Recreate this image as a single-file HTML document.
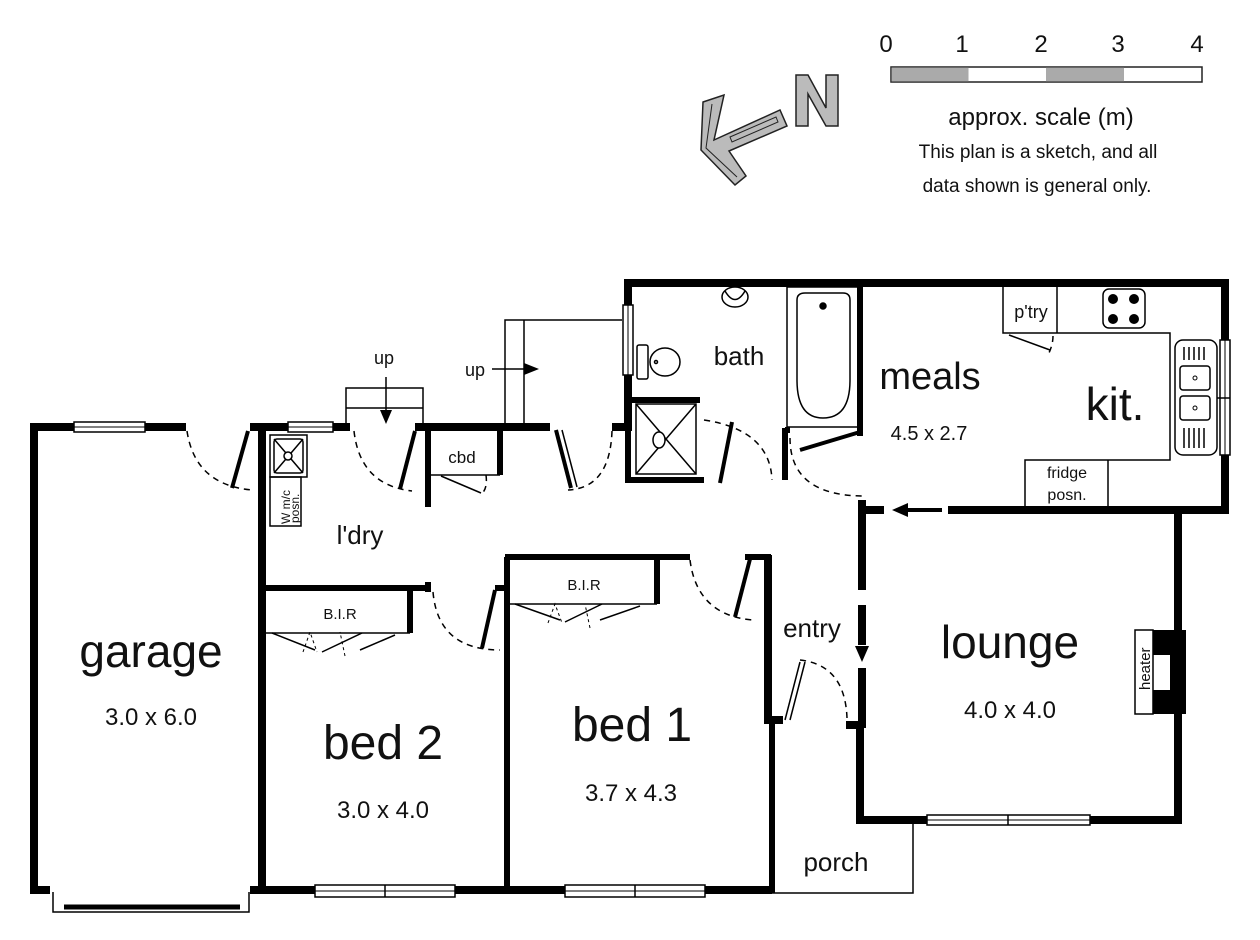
<!DOCTYPE html>
<html><head><meta charset="utf-8"><style>
html,body{margin:0;padding:0;background:#fff;}
svg{display:block;}
text{font-family:"Liberation Sans","DejaVu Sans",sans-serif;fill:#111;}
</style></head><body>
<svg width="1260" height="940" viewBox="0 0 1260 940" xmlns="http://www.w3.org/2000/svg">
<!-- scale -->
<g font-size="24">
<text x="886" y="52" text-anchor="middle">0</text>
<text x="962" y="52" text-anchor="middle">1</text>
<text x="1041" y="52" text-anchor="middle">2</text>
<text x="1118" y="52" text-anchor="middle">3</text>
<text x="1197" y="52" text-anchor="middle">4</text>
</g>
<rect x="891" y="67" width="311" height="15" fill="#fff" stroke="#222" stroke-width="1.5"/>
<rect x="891.5" y="67.5" width="77" height="14" fill="#aaa"/>
<rect x="1046" y="67.5" width="78" height="14" fill="#aaa"/>
<text x="1041" y="125" font-size="24" text-anchor="middle">approx. scale (m)</text>
<text x="1038" y="158" font-size="19" text-anchor="middle">This plan is a sketch, and all</text>
<text x="1037" y="192" font-size="19" text-anchor="middle">data shown is general only.</text>
<!-- north arrow -->
<g fill="#bbb" stroke="#222" stroke-width="1.5">
<polygon points="703,102 724,95 714,140 780,110 787,126 729,151 746,176 735,185 701,150"/>
<polygon points="796,75 808,75 826,108 826,75 838,75 838,126 826,126 808,94 808,126 796,126"/>
</g>
<g fill="none" stroke="#222" stroke-width="1">
<polyline points="712,104 706,148 737,177"/>
<polygon points="730,137 776,117 778,122 732,142"/>
</g>

<g stroke="#000" fill="none">
<g stroke-width="8">
<path d="M34,890 V427 H74 M145,427 H186"/>
<path d="M30,890 H50 M250,890 H272"/>
<path d="M250,427 H288 M333,427 H350"/>
<path d="M262,427 V893"/>
<path d="M415,427 H550 M612,427 H632"/>
<path d="M628,427 V375 M628,305 V283 H1225 V340 M1225,455 V510 H1175"/>
<path d="M1178,510 V630 M1178,714 V820 H1090 M927,820 H860 V725 H846"/>
<path d="M862,500 V590 M862,605 V645 M862,668 V728"/>
<path d="M862,510 H884 M948,510 H1178"/>
<path d="M262,890 H315 M455,890 H565 M705,890 H772"/>
<path d="M768,555 V720 H783"/>
</g>
<path d="M906,510 H942" stroke-width="4"/>
<g stroke-width="6">
<path d="M772,720 V893"/>
<path d="M266,588 H428 M428,582 V592 M495,588 H508"/>
<path d="M507,557 V893 M505,557 H690 M745,557 H768 V560"/>
<path d="M428,430 V507"/>
<path d="M500,430 V475"/>
<path d="M632,400 H700 M628,398 V480 H704"/>
<path d="M785,428 V480 M860,283 V436 M785,430 H790"/>
<path d="M410,590 V633 M657,560 V604"/>
</g>
<path d="M64,907 H240" stroke-width="5"/>
<path d="M53,892 V912 H249 V892" stroke-width="1.5"/>
<g stroke-width="1.5" fill="#fff">
<rect x="74" y="422" width="71" height="10"/>
<rect x="288" y="422" width="45" height="10"/>
<rect x="623" y="305" width="10" height="70"/>
<rect x="1220" y="340" width="10" height="115"/>
<rect x="927" y="815" width="163" height="10"/><line x1="1008" y1="815" x2="1008" y2="825"/>
<rect x="315" y="885" width="140" height="12"/><line x1="385" y1="885" x2="385" y2="897"/>
<rect x="565" y="885" width="140" height="12"/><line x1="635" y1="885" x2="635" y2="897"/>
</g>
<g stroke-width="1"><line x1="74" y1="427" x2="145" y2="427"/><line x1="288" y1="427" x2="333" y2="427"/><line x1="628" y1="305" x2="628" y2="375"/><line x1="1225" y1="340" x2="1225" y2="455"/><line x1="927" y1="820" x2="1090" y2="820"/><line x1="315" y1="891" x2="705" y2="891"/></g>
<g stroke-width="4">
<line x1="232" y1="488" x2="248" y2="431"/>
<line x1="400" y1="489" x2="415" y2="431"/>
<line x1="482" y1="648" x2="495" y2="590"/>
<line x1="735" y1="617" x2="750" y2="559"/>
<line x1="720" y1="483" x2="732" y2="422"/>
<line x1="800" y1="450" x2="860" y2="432"/>
<line x1="556" y1="430" x2="571" y2="488"/>
</g>
<g stroke-width="1.5">
<line x1="562" y1="430" x2="577" y2="487"/>
<line x1="785" y1="720" x2="800" y2="662"/><line x1="790" y1="720" x2="805" y2="662"/>
<line x1="441" y1="476" x2="481" y2="493"/>
<line x1="1009" y1="335" x2="1050" y2="350"/>
</g>
<g stroke-width="1.5" stroke-dasharray="6,5">
<path d="M187,431 Q195,485 252,490"/>
<path d="M354,431 Q360,485 412,491"/>
<path d="M612,431 Q610,488 568,490"/>
<path d="M433,592 Q438,650 500,650"/>
<path d="M690,560 Q697,615 752,620"/>
<path d="M704,420 Q770,430 772,480"/>
<path d="M790,438 Q790,495 862,496"/>
<path d="M800,660 Q845,665 847,718"/>
<path d="M486,475 Q488,490 480,495"/>
<path d="M1053,336 Q1053,345 1048,355"/>
</g>
<g stroke-width="1.5">
<path d="M346,427 V388 H423 V427 M346,408 H423"/>
<path d="M505,427 V320 H622 M524,320 V427"/>
<line x1="386" y1="377" x2="386" y2="412"/>
<line x1="492" y1="369" x2="528" y2="369"/>
</g>
<path d="M428,430 V475 H500" stroke-width="1.5"/>
<g stroke-width="1.5">
<path d="M266,633 H410"/>
<path d="M510,604 H657"/>
<path d="M272,633 L315,650 M360,650 L395,635 M362,633 L322,652"/>
<path d="M515,604 L560,620 M600,620 L640,606 M602,604 L565,622"/>
</g>
<g stroke-width="1" stroke-dasharray="3,3">
<path d="M303,652 L310,632 L317,652 M345,656 L340,632"/>
<path d="M548,623 L555,604 L562,623 M590,628 L585,604"/>
</g>
<path d="M772,893 H913 V820" stroke-width="1.5"/>
<g stroke-width="1.5">
<rect x="270" y="435" width="37" height="42"/>
<rect x="274" y="439" width="29" height="34" rx="3"/>
<path d="M274,439 L303,473 M303,439 L274,473"/>
<circle cx="288" cy="456" r="4" fill="#fff"/>
<rect x="270" y="477" width="31" height="49"/>
</g>
<g stroke-width="1.5">
<rect x="787" y="287" width="73" height="140"/>
<path d="M797,300 Q797,293 805,293 H843 Q850,293 850,300 V380 Q850,418 823,418 Q797,418 797,380 Z"/>
<circle cx="823" cy="306" r="3" fill="#000"/>
<rect x="636" y="404" width="60" height="70"/>
<path d="M636,404 L696,474 M696,404 L636,474"/>
<ellipse cx="659" cy="440" rx="6" ry="8" fill="#fff"/>
<ellipse cx="735" cy="297" rx="13" ry="10"/>
<path d="M725,291 Q735,308 745,291"/>
<rect x="637" y="345" width="11" height="34" rx="2"/>
<ellipse cx="665" cy="362" rx="15" ry="14"/>
<circle cx="656" cy="362" r="1.5"/>
</g>
<g stroke-width="1.5">
<path d="M1003,287 V333 H1170 V460 H1025 V508 M1108,460 V508 M1057,287 V333"/>
<rect x="1103" y="289" width="42" height="39" rx="6"/>
<rect x="1175" y="340" width="42" height="115" rx="8"/>
<rect x="1180" y="366" width="30" height="24" rx="3"/>
<rect x="1180" y="396" width="30" height="24" rx="3"/>
<path d="M1184,347 V360 M1189,347 V360 M1194,347 V360 M1199,347 V360 M1204,347 V360 M1184,428 V448 M1189,428 V448 M1194,428 V448 M1199,428 V448 M1204,428 V448"/>
<line x1="1217" y1="398" x2="1230" y2="398"/>
<rect x="1135" y="630" width="18" height="84" fill="#fff"/>
</g>
</g>
<g fill="#000">
<circle cx="1113" cy="299" r="5"/><circle cx="1134" cy="299" r="5"/><circle cx="1113" cy="319" r="5"/><circle cx="1134" cy="319" r="5"/>
<circle cx="1195" cy="378" r="2" fill="none" stroke="#000"/><circle cx="1195" cy="408" r="2" fill="none" stroke="#000"/>
<polygon points="380,410 392,410 386,424"/>
<polygon points="524,363 524,375 539,369"/>
<polygon points="892,510 908,503 908,517"/>
<polygon points="862,662 855,646 869,646"/>
<path d="M1153,630 H1186 V714 H1153 V690 H1170 V655 H1153 Z"/>
</g>
<g text-anchor="middle">
<text x="151" y="667" font-size="46">garage</text>
<text x="151" y="725" font-size="24">3.0 x 6.0</text>
<text x="383" y="759" font-size="48">bed 2</text>
<text x="383" y="818" font-size="24">3.0 x 4.0</text>
<text x="632" y="741" font-size="48">bed 1</text>
<text x="631" y="801" font-size="24">3.7 x 4.3</text>
<text x="1010" y="658" font-size="46">lounge</text>
<text x="1010" y="718" font-size="24">4.0 x 4.0</text>
<text x="930" y="389" font-size="38">meals</text>
<text x="929" y="440" font-size="20">4.5 x 2.7</text>
<text x="1115" y="420" font-size="46">kit.</text>
<text x="739" y="365" font-size="26">bath</text>
<text x="812" y="637" font-size="26">entry</text>
<text x="836" y="871" font-size="26">porch</text>
<text x="360" y="544" font-size="26">l'dry</text>
<text x="462" y="463" font-size="17">cbd</text>
<text x="340" y="619" font-size="15">B.I.R</text>
<text x="584" y="590" font-size="15">B.I.R</text>
<text x="1031" y="318" font-size="18">p'try</text>
<text x="1067" y="478" font-size="16">fridge</text>
<text x="1067" y="500" font-size="16">posn.</text>
<text x="384" y="364" font-size="18">up</text>
<text x="475" y="376" font-size="18">up</text>
</g>
<text transform="translate(290,524) rotate(-90)" font-size="12">W m/c</text>
<text transform="translate(299,523) rotate(-90)" font-size="12">posn.</text>
<text transform="translate(1150,690) rotate(-90)" font-size="15">heater</text>
</svg>
</body></html>
